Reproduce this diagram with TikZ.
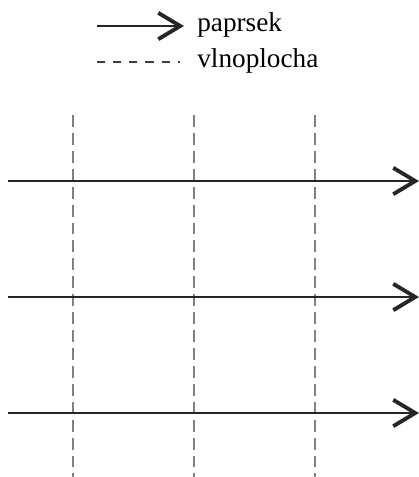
\documentclass[tikz,border=0pt]{standalone}
\usepackage{fontspec}
\setmainfont{Liberation Serif}
\usetikzlibrary{arrows.meta}
\tikzset{
  paprsek/.style={line width=0.75pt, draw=black!85,
    -{Straight Barb[length=12.5pt,width=15pt,line width=2.2pt]}},
  vlna/.style={line width=1.25pt, draw=black!50, dash pattern=on 6.8pt off 3.4pt},
  legvlna/.style={line width=0.6pt, draw=black!75, dash pattern=on 4.6pt off 4.6pt},
  popis/.style={anchor=base west, inner sep=0pt, font=\fontsize{15.5}{18}\selectfont}
}
\begin{document}
\begin{tikzpicture}[x=0.02cm, y=-0.02cm]
      \useasboundingbox (0,0) rectangle (419,477);

      % Legend
      \coordinate (la) at (97,26);
      \coordinate (lb) at (184,26);
      \coordinate (lc) at (97,62);
      \coordinate (ld) at (180,62);
      \draw[paprsek] (la) -- (lb);
      \draw[legvlna] (lc) -- (ld);
      \node[popis] (tpaprsek) at (197,31) {paprsek};
      \node[popis] (tvlna) at (197,67) {vlnoplocha};

      % Wavefronts
      \foreach \x [count=\i] in {73,194,315} {
        \coordinate (v\i a) at (\x,115);
        \coordinate (v\i b) at (\x,477);
        \draw[vlna] (v\i a) -- (v\i b);
      }

      % Rays
      \foreach \y [count=\i] in {181,297,413} {
        \coordinate (r\i a) at (8,\y);
        \coordinate (r\i b) at (419,\y);
        \draw[paprsek] (r\i a) -- (r\i b);
      }
    \end{tikzpicture}
\end{document}
